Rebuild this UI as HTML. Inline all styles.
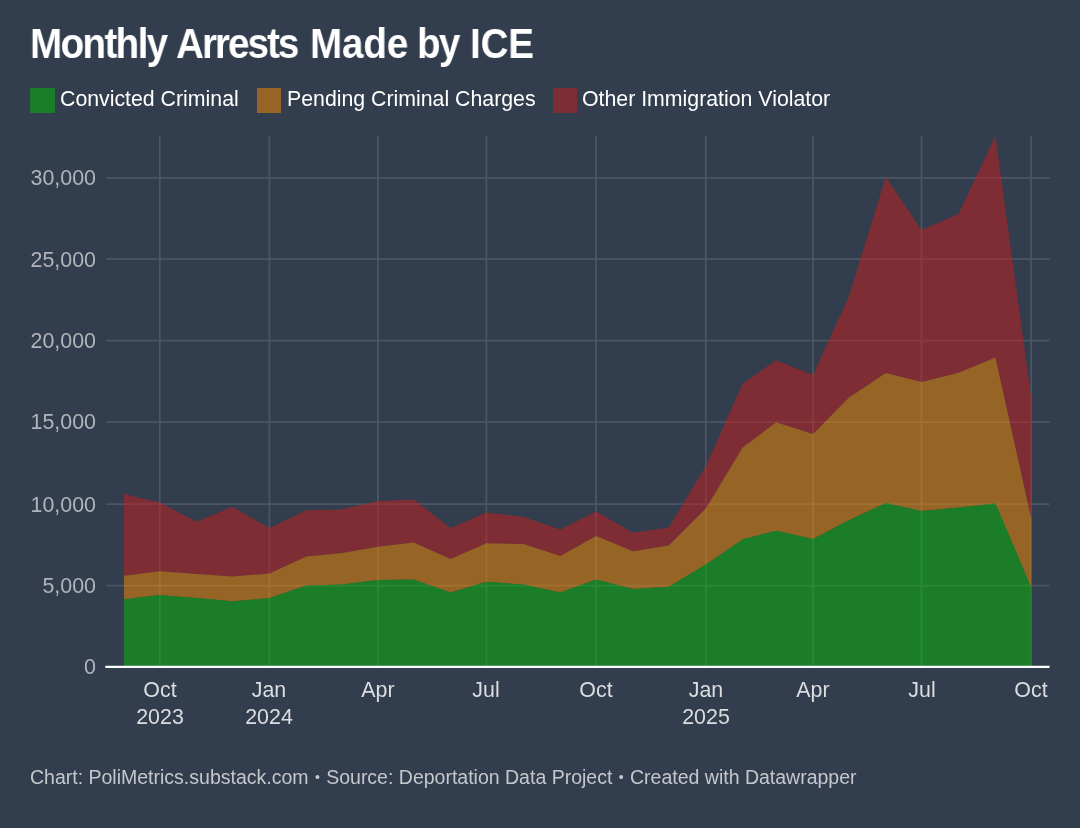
<!DOCTYPE html>
<html><head><meta charset="utf-8"><title>Monthly Arrests Made by ICE</title>
<style>
html,body{margin:0;padding:0;overflow:hidden;}
body{width:1080px;height:828px;background:#323d4d;overflow:hidden;position:relative;font-family:"Liberation Sans",sans-serif;}
.t{position:absolute;white-space:nowrap;line-height:1;will-change:transform;}
.tw{top:23px;font-size:42px;font-weight:bold;color:#fff;transform-origin:0 0;transform:scaleX(0.92);}
.lg{font-size:21.3px;color:#fff;top:89px;}
.sw{position:absolute;top:88.3px;width:24.7px;height:24.6px;}
.yl{font-size:21.4px;color:#b1b4ba;text-align:right;width:80px;left:15.8px;}
.xl{font-size:21.4px;color:#dcdde0;text-align:center;width:100px;}
.ft{left:29.6px;top:768px;font-size:19.5px;color:#c5c7cb;}
.b{font-size:14px;margin:0 0.97px;vertical-align:2.2px;line-height:0;}
svg{position:absolute;left:0;top:0;}
</style></head><body>
<div class="t tw" style="left:29.84px;letter-spacing:-1.8px">Monthly</div>
<div class="t tw" style="left:175.5px;letter-spacing:-2.16px">Arrests</div>
<div class="t tw" style="left:309.8px;letter-spacing:-0.13px">Made</div>
<div class="t tw" style="left:416.64px;letter-spacing:-1.87px">by</div>
<div class="t tw" style="left:470.4px;letter-spacing:-0.2px">ICE</div>
<div class="sw" style="left:30px;background:#1a7d27"></div><div class="t lg" style="left:60px">Convicted Criminal</div>
<div class="sw" style="left:256.7px;background:#966427"></div><div class="t lg" style="left:286.5px">Pending Criminal Charges</div>
<div class="sw" style="left:552.5px;background:#7d2e35"></div><div class="t lg" style="left:582px">Other Immigration Violator</div>

<svg width="1080" height="828" viewBox="0 0 1080 828">
<g stroke="#ffffff" opacity="0.125" stroke-width="1.75">
<line x1="106.2" x2="1049.5" y1="177.80" y2="177.80"/>
<line x1="106.2" x2="1049.5" y1="259.15" y2="259.15"/>
<line x1="106.2" x2="1049.5" y1="340.60" y2="340.60"/>
<line x1="106.2" x2="1049.5" y1="422.00" y2="422.00"/>
<line x1="106.2" x2="1049.5" y1="504.10" y2="504.10"/>
<line x1="106.2" x2="1049.5" y1="585.60" y2="585.60"/>
<line x1="159.8" x2="159.8" y1="136" y2="666.9"/>
<line x1="269.4" x2="269.4" y1="136" y2="666.9"/>
<line x1="377.9" x2="377.9" y1="136" y2="666.9"/>
<line x1="486.4" x2="486.4" y1="136" y2="666.9"/>
<line x1="596.1" x2="596.1" y1="136" y2="666.9"/>
<line x1="705.8" x2="705.8" y1="136" y2="666.9"/>
<line x1="813.0" x2="813.0" y1="136" y2="666.9"/>
<line x1="921.5" x2="921.5" y1="136" y2="666.9"/>
<line x1="1031.2" x2="1031.2" y1="136" y2="666.9"/>
</g>
<g fill-opacity="0.5">
<polygon points="124.0,494.1 159.8,502.5 196.7,521.7 232.5,506.8 269.4,528.1 306.4,510.2 341.0,509.6 377.9,500.9 413.7,499.6 450.6,528.1 486.4,512.6 523.4,516.7 560.3,529.4 596.1,511.5 633.0,532.8 668.8,527.6 705.8,466.0 742.7,383.6 776.1,360.2 813.0,375.0 848.8,296.5 885.8,177.0 921.5,229.9 958.5,214.0 995.4,136.0 1031.2,397.7 1031.2,518.4 995.4,357.4 958.5,372.8 921.5,382.0 885.8,373.0 848.8,397.7 813.0,434.1 776.1,422.3 742.7,447.5 705.8,508.6 668.8,545.5 633.0,551.3 596.1,535.9 560.3,556.1 523.4,543.9 486.4,543.3 450.6,559.1 413.7,542.6 377.9,546.7 341.0,553.3 306.4,556.5 269.4,573.5 232.5,576.5 196.7,574.0 159.8,571.2 124.0,575.7" fill="#c91d1b"/>
<polygon points="124.0,575.7 159.8,571.2 196.7,574.0 232.5,576.5 269.4,573.5 306.4,556.5 341.0,553.3 377.9,546.7 413.7,542.6 450.6,559.1 486.4,543.3 523.4,543.9 560.3,556.1 596.1,535.9 633.0,551.3 668.8,545.5 705.8,508.6 742.7,447.5 776.1,422.3 813.0,434.1 848.8,397.7 885.8,373.0 921.5,382.0 958.5,372.8 995.4,357.4 1031.2,518.4 1031.2,587.4 995.4,503.4 958.5,507.6 921.5,511.0 885.8,502.9 848.8,520.3 813.0,539.0 776.1,530.7 742.7,539.3 705.8,564.6 668.8,586.8 633.0,589.0 596.1,579.4 560.3,592.4 523.4,584.6 486.4,581.7 450.6,592.4 413.7,579.4 377.9,580.0 341.0,584.6 306.4,585.6 269.4,598.1 232.5,601.3 196.7,598.0 159.8,595.0 124.0,599.3" fill="#f98d00"/>
<polygon points="124.0,599.3 159.8,595.0 196.7,598.0 232.5,601.3 269.4,598.1 306.4,585.6 341.0,584.6 377.9,580.0 413.7,579.4 450.6,592.4 486.4,581.7 523.4,584.6 560.3,592.4 596.1,579.4 633.0,589.0 668.8,586.8 705.8,564.6 742.7,539.3 776.1,530.7 813.0,539.0 848.8,520.3 885.8,502.9 921.5,511.0 958.5,507.6 995.4,503.4 1031.2,587.4 1031.2,666.9 124.0,666.9" fill="#03bd03"/>
</g>
<line x1="105.3" x2="1049.5" y1="666.9" y2="666.9" stroke="#fff" stroke-width="2.2"/>
</svg>
<div class="t yl" style="top:168px">30,000</div>
<div class="t yl" style="top:250px">25,000</div>
<div class="t yl" style="top:331px">20,000</div>
<div class="t yl" style="top:412px">15,000</div>
<div class="t yl" style="top:495px">10,000</div>
<div class="t yl" style="top:576px">5,000</div>
<div class="t yl" style="top:657px">0</div>
<div class="t xl" style="left:109.8px;top:680px">Oct</div>
<div class="t xl" style="left:109.8px;top:707px">2023</div>
<div class="t xl" style="left:219.4px;top:680px">Jan</div>
<div class="t xl" style="left:219.4px;top:707px">2024</div>
<div class="t xl" style="left:327.9px;top:680px">Apr</div>
<div class="t xl" style="left:436.4px;top:680px">Jul</div>
<div class="t xl" style="left:546.1px;top:680px">Oct</div>
<div class="t xl" style="left:655.8px;top:680px">Jan</div>
<div class="t xl" style="left:655.8px;top:707px">2025</div>
<div class="t xl" style="left:763.0px;top:680px">Apr</div>
<div class="t xl" style="left:871.5px;top:680px">Jul</div>
<div class="t xl" style="left:981.2px;top:680px">Oct</div>
<div class="t ft">Chart: PoliMetrics.substack.com <span class="b">•</span> Source: Deportation Data Project <span class="b">•</span> Created with Datawrapper</div>
</body></html>
